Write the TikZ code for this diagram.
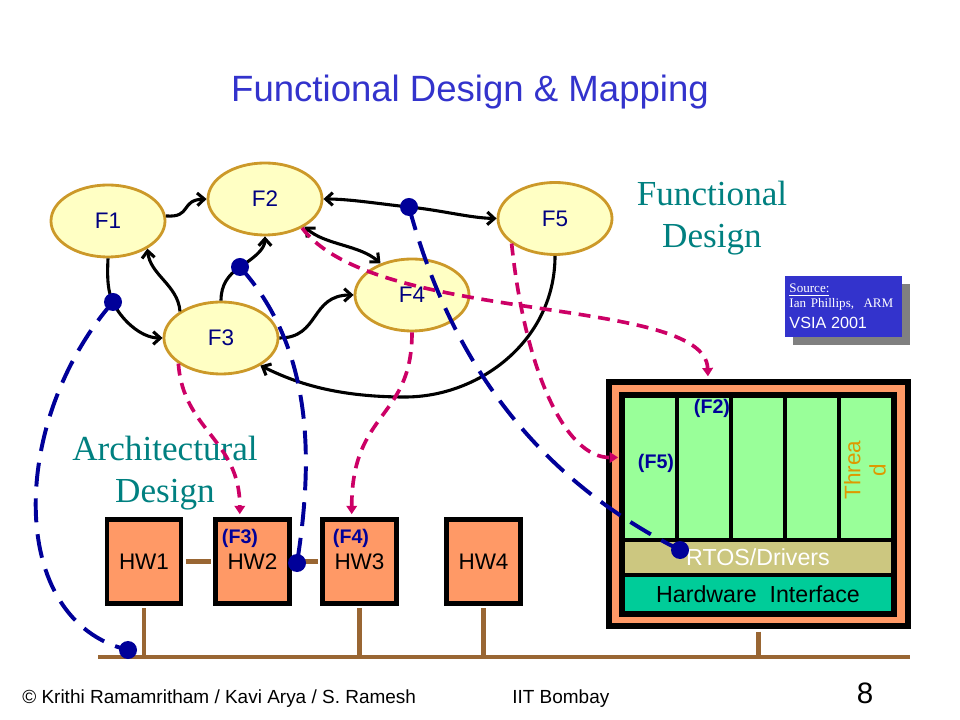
\documentclass[tikz,border=0pt]{standalone}
\usepackage{fontspec}
\setmainfont{Liberation Sans}
\newfontfamily\timesface{Liberation Serif}
\usetikzlibrary{arrows.meta,shapes,shadows}
\definecolor{ellfill}{RGB}{255,255,196}
\definecolor{ellline}{RGB}{204,153,41}
\definecolor{fname}{RGB}{0,0,128}
\definecolor{bindblue}{RGB}{0,0,153}
\definecolor{mapred}{RGB}{204,0,102}
\definecolor{hworange}{RGB}{255,153,102}
\definecolor{threadgreen}{RGB}{153,255,153}
\definecolor{rtoskhaki}{RGB}{204,199,128}
\definecolor{ifgreen}{RGB}{0,204,153}
\definecolor{busbrown}{RGB}{153,102,51}
\definecolor{designteal}{RGB}{0,128,128}
\definecolor{threadorange}{RGB}{221,153,0}
\definecolor{titleblue}{RGB}{51,51,204}

\begin{document}
\begin{tikzpicture}[x=0.025cm, y=-0.025cm, >={Straight Barb[length=5pt,width=9pt]},
  fun node/.style={ellipse, draw=ellline, fill=ellfill, line width=2pt, minimum width=2.85cm, minimum height=1.8cm, inner sep=0pt, text=fname, font=\fontsize{16}{18}\selectfont},
  hw node/.style={draw, fill=hworange, line width=3.5pt, minimum width=1.85cm, minimum height=2.1cm, inner sep=0pt, font=\fontsize{16}{18}\selectfont},
  col node/.style={draw, fill=threadgreen, line width=3pt, minimum width=1.35cm, minimum height=3.6cm, inner sep=0pt},
  fun tag/.style={text=bindblue, font=\bfseries\fontsize{14}{16}\selectfont, inner sep=0pt},
  design/.style={text=designteal, align=center, font=\timesface\fontsize{25}{30}\selectfont},
  flow/.style={draw, line width=2.2pt},
  bind/.style={draw=bindblue, line width=2.8pt, dash pattern=on 17pt off 8.5pt},
  map/.style={draw=mapred, line width=2.6pt, dash pattern=on 8.5pt off 5.5pt, -{Triangle[length=6pt,width=7.5pt]}, shorten >=2pt},
  bus/.style={draw=busbrown, line width=3.5pt},
  joint/.style={circle, fill=bindblue, minimum size=0.45cm, inner sep=0pt}]
\useasboundingbox (0,0) rectangle (960,720);

\node[text=titleblue, font=\fontsize{26}{30}\selectfont, anchor=base] (title) at (470,102) {Functional Design \& Mapping};
\node[design] (fdesign) at (712,218) {Functional\\Design};
\node[design] (adesign) at (165,473) {Architectural\\Design};
\node[fill=titleblue, text=white, align=left, minimum width=2.925cm, minimum height=1.525cm, inner sep=0pt, text width=2.7cm,
  drop shadow={shadow xshift=5.5pt, shadow yshift=-5.5pt, fill=black!50, opacity=1}] (src) at (843.5,306.5)
  {\timesface\fontsize{9.3}{10.7}\selectfont\underline{Source:}\\ Ian Phillips,\ \ ARM\\[2.8pt] \rmfamily\fontsize{11.5}{10.7}\selectfont VSIA 2001};
\node[anchor=base west, inner sep=0pt, font=\fontsize{13.5}{15}\selectfont] (credit) at (22,703) {© Krithi Ramamritham / Kavi Arya / S. Ramesh};
\node[anchor=base west, inner sep=0pt, font=\fontsize{13.5}{15}\selectfont] (inst) at (512,703) {IIT Bombay};
\node[anchor=base, inner sep=0pt, font=\fontsize{21}{24}\selectfont] (pagenum) at (865,703) {8};

\node[draw, line width=4pt, fill=hworange, minimum width=7.475cm, minimum height=6.1cm, inner sep=0pt] (rtbox) at (758.5,504) {};
\foreach \i in {1,...,5}
  \node[col node] (col\i) at ({596+54*\i},468) {};
\node[draw, line width=3pt, fill=rtoskhaki, minimum width=6.75cm, minimum height=0.875cm, inner sep=0pt, text=white, font=\fontsize{16.5}{18}\selectfont] (rtos) at (758,557.5) {RTOS/Drivers};
\node[draw, line width=3pt, fill=ifgreen, minimum width=6.75cm, minimum height=0.95cm, inner sep=0pt, font=\fontsize{16.5}{18}\selectfont] (hwif) at (758,594) {Hardware\ \ Interface};
\draw[line width=3pt] (col1.north west) rectangle (hwif.south east);
\node[fun tag] (tagF2) at (712,408) {(F2)};
\node[fun tag] (tagF5) at (656,463) {(F5)};
\node[rotate=90, text=threadorange, align=center, font=\fontsize{16}{18}\selectfont] (thread) at (865,470) {Threa\\d};

\node[hw node] (HW1) at (144,561.5) {HW1};
\node[hw node] (HW2) at (252.5,561.5) {HW2};
\node[hw node] (HW3) at (359.5,561.5) {HW3};
\node[hw node] (HW4) at (483.5,561.5) {HW4};
\node[fun tag] (tagF3) at (240,538) {(F3)};
\node[fun tag] (tagF4) at (351,538) {(F4)};

\coordinate (busL) at (98,657);
\coordinate (busR) at (910,657);
\path[bus]
(busL) edge (busR)
(HW1.east) edge[shorten <=1.7pt, shorten >=1.7pt] (HW2.west)
(HW2.east) edge[shorten <=1.7pt, shorten >=1.7pt] (HW3.west)
(HW1.south) edge[shorten <=1.7pt] (HW1.south |- busL)
(HW3.south) edge[shorten <=1.7pt] (HW3.south |- busL)
(HW4.south) edge[shorten <=1.7pt] (HW4.south |- busL)
(rtbox.south) edge[shorten <=2pt] (rtbox.south |- busL);

\node[fun node] (F1) at (108,221) {F1};
\node[fun node] (F2) at (265,199) {F2};
\node[fun node] (F3) at (221,338) {F3};
\node[fun node] (F4) at (412,295) {F4};
\node[fun node] (F5) at (555,218.5) {F5};

\coordinate (d1) at (113,302);
\coordinate (d2) at (240,267);
\coordinate (d3) at (409,207);
\coordinate (d4) at (128,650);
\coordinate (d5) at (297,563);
\coordinate (d6) at (680,550);
\coordinate (low) at (405,397);

\draw[flow, ->] (F1.5) .. controls (192,218) and (180,200) .. (F2.west);
\draw[flow] (F1.south) .. controls (107,280) and (108,292) .. (d1);
\draw[flow, ->] (d1) .. controls (120,318) and (140,338) .. (F3.west);
\draw[flow, ->] (F3.147) .. controls (178,285) and (150,275) .. (F1.-35);
\draw[flow] (F3.north) .. controls (221,285) and (228,275) .. (d2);
\draw[flow, ->] (d2) .. controls (252,259) and (265,250) .. (F2.south);
\draw[flow, ->] (F3.east) .. controls (320,338) and (310,295) .. (F4.west);
\draw[flow, <->] (F2.-35) .. controls (325,245) and (360,245) .. (F4.135);
\draw[flow, ->] (d3) .. controls (380,204) and (350,199) .. (F2.east);
\draw[flow, ->] (d3) .. controls (440,210) and (470,218) .. (F5.west);
\draw[flow] (F5.south) .. controls (555,340) and (480,397) .. (low);
\draw[flow, ->] (low) .. controls (330,397) and (290,380) .. (F3.-35);

\draw[map] (F3.-149) .. controls (183,430) and (240,440) .. (HW2.106);
\draw[map] (F4.south) .. controls (412,420) and (352,410) .. (HW3.100);
\draw[map] (F5.-150) .. controls (525,370) and (565,458) .. (col1.160);
\draw[map] (F2.-38) .. controls (375,325) and (705,295) .. (rtbox.112);

\draw[bind] (d1) .. controls (10,420) and (5,620) .. (d4);
\draw[bind] (d2) .. controls (310,345) and (315,450) .. (d5);
\draw[bind] (d3) .. controls (445,340) and (520,470) .. (d6);

\foreach \p in {d1,d2,d3,d4,d5,d6}
  \node[joint] (\p-dot) at (\p) {};
\end{tikzpicture}
\end{document}
